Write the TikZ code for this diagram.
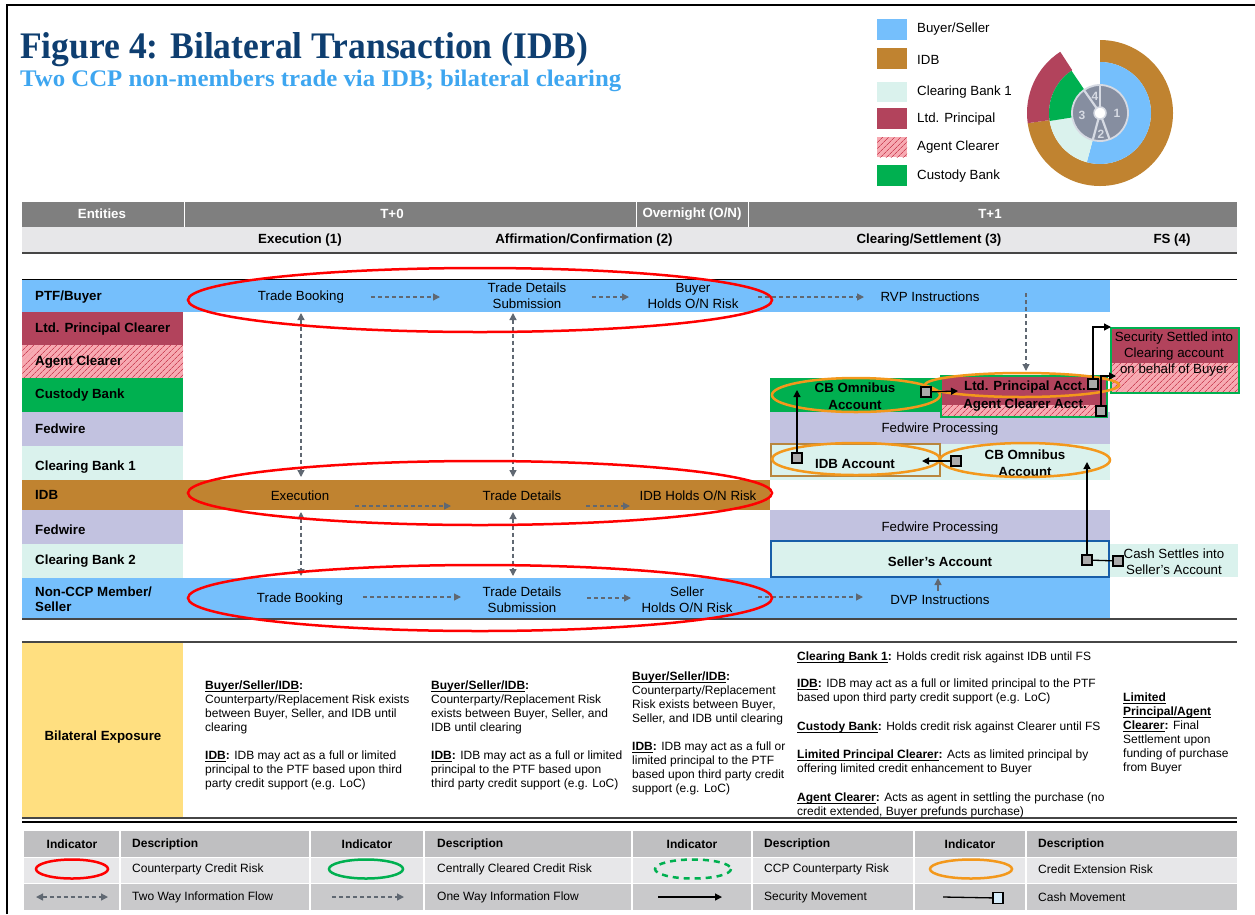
\documentclass[tikz,border=0pt]{standalone}
\usepackage{fontspec}
\setmainfont{Liberation Sans}
\newfontfamily\titlefont{Liberation Serif}
\usepackage{graphicx}
\usetikzlibrary{arrows.meta,patterns.meta}

\definecolor{buyblue}{RGB}{117,191,252}
\definecolor{rasp}{RGB}{178,67,92}
\definecolor{hatchpink}{RGB}{247,170,178}
\definecolor{hatchred}{RGB}{205,70,90}
\definecolor{cgreen}{RGB}{0,176,80}
\definecolor{lav}{RGB}{194,194,224}
\definecolor{mint}{RGB}{218,242,237}
\definecolor{idbbrown}{RGB}{192,131,48}
\definecolor{hdrdark}{RGB}{127,127,127}
\definecolor{hdrlight}{RGB}{231,231,233}
\definecolor{corange}{RGB}{243,152,28}
\definecolor{cred}{RGB}{255,0,0}
\definecolor{yel}{RGB}{255,223,128}
\definecolor{titleblue}{RGB}{14,62,112}
\definecolor{subblue}{RGB}{62,166,240}
\definecolor{flowgray}{RGB}{96,104,114}
\definecolor{sqgray}{RGB}{170,170,170}
\definecolor{sqblue}{RGB}{214,236,250}
\definecolor{sellerblue}{RGB}{24,94,168}
\definecolor{acctbrown}{RGB}{184,134,62}
\definecolor{discgray}{RGB}{134,142,160}
\definecolor{discline}{RGB}{214,218,227}
\definecolor{tabhead}{RGB}{191,191,193}
\definecolor{tabrow}{RGB}{231,231,233}
\definecolor{tabrow3}{RGB}{201,201,203}
\definecolor{linegray}{RGB}{70,70,70}

\newsavebox\myulbox
\newcommand\ulx[1]{\sbox\myulbox{#1}\rlap{\rule[-1.6pt]{\wd\myulbox}{0.8pt}}\usebox\myulbox}

\tikzset{
  lbl/.style={font=\fontsize{13.3}{15.5}\selectfont\bfseries, anchor=west, inner sep=0, align=left},
  txt/.style={font=\fontsize{13.3}{16}\selectfont, align=center, inner sep=0},
  btxt/.style={font=\fontsize{13.3}{17}\selectfont\bfseries, align=center, inner sep=0},
  hdrw/.style={font=\fontsize{13.3}{15}\selectfont\bfseries, text=white, inner sep=0},
  hdrb/.style={font=\fontsize{13.3}{15}\selectfont\bfseries, inner sep=0},
  lg/.style={font=\fontsize{13.3}{15}\selectfont, anchor=west, inner sep=0},
  small/.style={font=\fontsize{12}{14}\selectfont, align=left, anchor=north west, inner sep=0},
  tabt/.style={font=\fontsize{12}{14}\selectfont, anchor=west, inner sep=0},
  tabh/.style={font=\fontsize{12}{14}\selectfont\bfseries, inner sep=0},
  dflow/.style={draw=flowgray, line width=1.3pt, dash pattern=on 4pt off 3pt, -{Triangle[length=7pt,width=7pt]}},
  dflowtwo/.style={draw=flowgray, line width=1.3pt, dash pattern=on 4pt off 3pt, {Triangle[length=7pt,width=7pt]}-{Triangle[length=7pt,width=7pt]}},
  sec/.style={draw=black, line width=1.3pt, -{Triangle[length=7pt,width=7pt]}},
  csq/.style={draw=black, fill=sqgray, line width=1.2pt, minimum size=10pt, inner sep=0},
  hatch/.style={fill=hatchpink, postaction={pattern={Lines[angle=45,distance=4pt,line width=0.8pt]}, pattern color=hatchred}},
  redring/.style={draw=cred, line width=2.5pt},
  orring/.style={draw=corange, line width=2.5pt},
}

\begin{document}
\begin{tikzpicture}[x=1pt,y=-1pt]
\useasboundingbox (0,0) rectangle (1255,914);
\fill[white] (0,0) rectangle (1255,914);
\draw[line width=2.2pt] (7,914) -- (7,5) -- (1255,5);

% ---------- title ----------
\node[anchor=base west, inner sep=0, text=titleblue] (title) at (20,58)
  {\resizebox{568pt}{26pt}{\titlefont\bfseries Figure 4: Bilateral Transaction (IDB)}};
\node[anchor=base west, inner sep=0, text=subblue] (subtitle) at (20,86)
  {\resizebox{601pt}{16.5pt}{\titlefont\bfseries Two CCP non-members trade via IDB; bilateral clearing}};

% ---------- top-right legend ----------
\fill[buyblue] (877,19) rectangle (907,40);
\node[lg] (lgbs) at (917,29) {Buyer/Seller};
\fill[idbbrown] (877,48) rectangle (907,69);
\node[lg] (lgidb) at (917,60) {IDB};
\fill[mint] (877,82) rectangle (907,102);
\node[lg] (lgcb) at (917,92) {Clearing Bank 1};
\fill[rasp] (877,108) rectangle (907,129);
\node[lg] (lglp) at (917,119) {Ltd. Principal};
\path[hatch] (877,137) rectangle (907,157);
\node[lg] (lgac) at (917,147) {Agent Clearer};
\fill[cgreen] (877,165) rectangle (907,186);
\node[lg] (lgcu) at (917,176) {Custody Bank};

% ---------- donut ----------
\begin{scope}[shift={(1100,113)}, yscale=-1]
  \fill[idbbrown] (90:73) arc[start angle=90,end angle=-172,radius=73] -- (-172:51) arc[start angle=-172,end angle=90,radius=51] -- cycle;
  \fill[rasp] (123:73) arc[start angle=123,end angle=188,radius=73] -- (188:51) arc[start angle=188,end angle=123,radius=51] -- cycle;
  \fill[buyblue] (90:51) arc[start angle=90,end angle=-105,radius=51] -- (-105:28) arc[start angle=-105,end angle=90,radius=28] -- cycle;
  \fill[mint] (-105:51) arc[start angle=-105,end angle=-171,radius=51] -- (-171:28) arc[start angle=-171,end angle=-105,radius=28] -- cycle;
  \fill[cgreen] (189:51) arc[start angle=189,end angle=124,radius=51] -- (124:28) arc[start angle=124,end angle=189,radius=28] -- cycle;
  \fill[discgray] (0,0) circle[radius=28];
  \draw[discline, line width=1.8pt] (0,0) circle[radius=28];
  \draw[discline, line width=2.2pt] (90:6) -- (90:28);
  \draw[discline, line width=2.2pt] (125:6) -- (125:28);
  \draw[discline, line width=2.2pt] (-105:6) -- (-105:28);
  \draw[discline, line width=2.2pt] (-70:6) -- (-70:28);
  \fill[white] (0,0) circle[radius=6];
  \draw[discline, line width=1.5pt] (0,0) circle[radius=6];
  \node[font=\fontsize{12}{12}\selectfont\bfseries, text=discline, inner sep=0] (n1) at (17,0) {1};
  \node[font=\fontsize{12}{12}\selectfont\bfseries, text=discline, inner sep=0] (n2) at (1,-21) {2};
  \node[font=\fontsize{12}{12}\selectfont\bfseries, text=discline, inner sep=0] (n3) at (-18,-2) {3};
  \node[font=\fontsize{12}{12}\selectfont\bfseries, text=discline, inner sep=0] (n4) at (-5,17) {4};
\end{scope}

% ---------- header ----------
\fill[hdrdark] (22,202) rectangle (1237,227);
\fill[hdrlight] (22,227) rectangle (1237,252);
\draw[linegray, line width=1.6pt] (22,253) -- (1237,253);
\draw[white, line width=1pt] (184,202) -- (184,227);
\draw[white, line width=1pt] (636,202) -- (636,227);
\draw[white, line width=1pt] (748,202) -- (748,227);
\node[hdrw] (hent) at (102,214) {Entities};
\node[hdrw] (ht0) at (392,214) {T+0};
\node[hdrw] (hon) at (692,214) {Overnight (O/N)};
\node[hdrw] (ht1) at (990,214) {T+1};
\node[hdrb] (hexe) at (300,240) {Execution (1)};
\node[hdrb] (haff) at (584,240) {Affirmation/Confirmation (2)};
\node[hdrb] (hcs) at (929,240) {Clearing/Settlement (3)};
\node[hdrb] (hfs) at (1172,240) {FS (4)};

% ---------- rows ----------
\fill[buyblue] (22,279) rectangle (1110,312);
\fill[rasp] (22,312) rectangle (183,345);
\path[hatch] (22,345) rectangle (183,378);
\fill[cgreen] (22,378) rectangle (183,412);
\fill[lav] (22,412) rectangle (183,446);
\fill[mint] (22,446) rectangle (183,480);
\fill[idbbrown] (22,480) rectangle (770,510);
\fill[lav] (22,510) rectangle (183,544);
\fill[mint] (22,544) rectangle (183,578);
\fill[buyblue] (22,578) rectangle (1110,619);
\draw[black, line width=1pt] (22,279) -- (1237,279);
\draw[linegray, line width=1.3pt] (22,619) -- (1237,619);

\node[lbl] (rptf) at (35,297) {PTF/Buyer};
\node[lbl] (rlpc) at (35,329) {Ltd. Principal Clearer};
\node[lbl] (rac) at (35,362) {Agent Clearer};
\node[lbl] (rcust) at (35,395) {Custody Bank};
\node[lbl] (rfw1) at (35,429) {Fedwire};
\node[lbl] (rcb1) at (35,467) {Clearing Bank 1};
\node[lbl] (ridb) at (35,495) {IDB};
\node[lbl] (rfw2) at (35,530) {Fedwire};
\node[lbl] (rcb2) at (35,561) {Clearing Bank 2};
\node[lbl] (rsel) at (35,599) {Non-CCP Member/\\Seller};

% ---------- T+1 area ----------
\fill[lav] (770,412) rectangle (1110,444);
\fill[mint] (770,444) rectangle (1110,480);
\fill[cgreen] (770,378) rectangle (940,412);
\fill[rasp] (941,376) rectangle (1107,405);
\path[hatch] (941,405) rectangle (1107,417);
\draw[cgreen, line width=2pt] (941,376) rectangle (1107,417);
\draw[acctbrown, line width=2pt, fill=mint] (771,444) rectangle (940,476);

\fill[rasp] (1111,328) rectangle (1239,363);
\path[hatch] (1111,363) rectangle (1239,393);
\draw[cgreen, line width=2pt] (1111,328) rectangle (1239,393);

\fill[lav] (770,510) rectangle (1110,541);
\draw[sellerblue, line width=2pt, fill=mint] (771,541) rectangle (1109,577);
\fill[mint] (1110,544) rectangle (1238,577);

\node[btxt] (cbo1) at (855,396) {CB Omnibus\\Account};
\node[btxt] (lpa) at (1025,387) {Ltd. Principal Acct.};
\node[btxt] (aca) at (1025,405) {Agent Clearer Acct.};
\node[txt] (fwp1) at (940,429) {Fedwire Processing};
\node[btxt] (idba) at (855,464) {IDB Account};
\node[btxt] (cbo2) at (1025,463) {CB Omnibus\\Account};
\node[txt] (fwp2) at (940,528) {Fedwire Processing};
\node[btxt] (sacc) at (940,562) {Seller’s Account};
\node[txt] (cash) at (1174,562) {Cash Settles into\\Seller’s Account};
\node[txt] (ssb) at (1174,354) {Security Settled into\\Clearing account\\on behalf of Buyer};

% orange ellipses
\draw[orring] (856,395) ellipse [x radius=84, y radius=17];
\draw[orring] (1022,385) ellipse [x radius=97, y radius=12];
\draw[orring] (856,459) ellipse [x radius=84, y radius=16];
\draw[orring] (1025,460) ellipse [x radius=85, y radius=17];

% squares and movements
\node[csq] (s1) at (926,392) {};
\node[csq] (s2) at (1093,384) {};
\node[csq] (s3) at (1101,411) {};
\node[csq] (s4) at (797,458) {};
\node[csq] (s5) at (956,461) {};
\node[csq] (s6) at (1087,560) {};
\node[csq] (s7) at (1118,561) {};
\coordinate (t1) at (958,391);
\coordinate (t2) at (797,390);
\coordinate (t3) at (922,461);
\coordinate (t4) at (1087,462);
\coordinate (t5) at (1111,327);
\coordinate (t6) at (1116,376);
\draw[sec] (s1) -- (t1);
\draw[sec] (s4) -- (t2);
\draw[sec] (s5) -- (t3);
\draw[sec] (s6) -- (t4);
\draw[sec] (s2.north) |- (t5);
\draw[sec] (s3.north) |- (t6);
\draw[black, line width=1.3pt] (s6) -- (s7);

% ---------- flow texts ----------
\node[txt] (tb1) at (301,297) {Trade Booking};
\node[txt] (td1) at (527,296) {Trade Details\\Submission};
\node[txt] (bh) at (693,296) {Buyer\\Holds O/N Risk};
\node[txt] (rvp) at (930,297) {RVP Instructions};
\node[txt] (exe) at (300,496) {Execution};
\node[txt] (td2) at (522,496) {Trade Details};
\node[txt] (ih) at (698,496) {IDB Holds O/N Risk};
\node[txt] (tb3) at (300,599) {Trade Booking};
\node[txt] (td3) at (522,600) {Trade Details\\Submission};
\node[txt] (sh) at (687,600) {Seller\\Holds O/N Risk};
\node[txt] (dvp) at (940,600) {DVP Instructions};

% dashed flows
\coordinate (f1a) at (371,297); \coordinate (f1b) at (440,297);
\coordinate (f2a) at (592,297); \coordinate (f2b) at (629,297);
\coordinate (f3a) at (758,297); \coordinate (f3b) at (864,297);
\coordinate (f4a) at (355,506); \coordinate (f4b) at (451,506);
\coordinate (f5a) at (586,506); \coordinate (f5b) at (630,506);
\coordinate (f6a) at (363,597); \coordinate (f6b) at (461,597);
\coordinate (f7a) at (587,598); \coordinate (f7b) at (631,598);
\coordinate (f8a) at (758,597); \coordinate (f8b) at (863,597);
\coordinate (f9a) at (1026,293); \coordinate (f9b) at (1026,371);
\draw[dflow] (f1a) -- (f1b);
\draw[dflow] (f2a) -- (f2b);
\draw[dflow] (f3a) -- (f3b);
\draw[dflow] (f4a) -- (f4b);
\draw[dflow] (f5a) -- (f5b);
\draw[dflow] (f6a) -- (f6b);
\draw[dflow] (f7a) -- (f7b);
\draw[dflow] (f8a) -- (f8b);
\draw[dflow] (f9a) -- (f9b);
\coordinate (v1a) at (301,313); \coordinate (v1b) at (301,477);
\coordinate (v2a) at (513,313); \coordinate (v2b) at (513,477);
\coordinate (v3a) at (301,512); \coordinate (v3b) at (301,576);
\coordinate (v4a) at (513,512); \coordinate (v4b) at (513,576);
\draw[dflowtwo] (v1a) -- (v1b);
\draw[dflowtwo] (v2a) -- (v2b);
\draw[dflowtwo] (v3a) -- (v3b);
\draw[dflowtwo] (v4a) -- (v4b);
\coordinate (g1) at (938,591);
\coordinate (g2) at (938,578);
\draw[draw=flowgray, line width=1.5pt, -{Triangle[length=7pt,width=7pt]}] (g1) -- (g2);

% red ellipses
\draw[redring] (480,300) ellipse [x radius=292, y radius=32];
\draw[redring] (480,493) ellipse [x radius=292, y radius=32];
\draw[redring] (480,598) ellipse [x radius=292, y radius=33];

% ---------- bilateral exposure ----------
\fill[yel] (22,642) rectangle (183,818);
\draw[linegray, line width=2pt] (22,642) -- (1237,642);
\draw[linegray, line width=1.2pt] (22,818) -- (1237,818);
\node[hdrb] (bexp) at (103,737) {Bilateral Exposure};

\node[small] (c1) at (205,681) {\textbf{\ulx{Buyer/Seller/IDB}:}\\Counterparty/Replacement Risk exists\\between Buyer, Seller, and IDB until\\clearing\\[14pt]\textbf{\ulx{IDB}:} IDB may act as a full or limited\\principal to the PTF based upon third\\party credit support (e.g. LoC)};
\node[small] (c2) at (431,681) {\textbf{\ulx{Buyer/Seller/IDB}:}\\Counterparty/Replacement Risk\\exists between Buyer, Seller, and\\IDB until clearing\\[14pt]\textbf{\ulx{IDB}:} IDB may act as a full or limited\\principal to the PTF based upon\\third party credit support (e.g. LoC)};
\node[small] (c3) at (632,672) {\textbf{\ulx{Buyer/Seller/IDB}:}\\Counterparty/Replacement\\Risk exists between Buyer,\\Seller, and IDB until clearing\\[14pt]\textbf{\ulx{IDB}:} IDB may act as a full or\\limited principal to the PTF\\based upon third party credit\\support (e.g. LoC)};
\node[small] (c4a) at (797,652) {\textbf{\ulx{Clearing Bank 1}:} Holds credit risk against IDB until FS};
\node[small] (c4b) at (797,679) {\textbf{\ulx{IDB}:} IDB may act as a full or limited principal to the PTF\\based upon third party credit support (e.g. LoC)};
\node[small] (c4c) at (797,722) {\textbf{\ulx{Custody Bank}:} Holds credit risk against Clearer until FS};
\node[small] (c4d) at (797,750) {\textbf{\ulx{Limited Principal Clearer}:} Acts as limited principal by\\offering limited credit enhancement to Buyer};
\node[small] (c4e) at (797,793) {\textbf{\ulx{Agent Clearer}:} Acts as agent in settling the purchase (no\\credit extended, Buyer prefunds purchase)};
\node[small] (c5) at (1123,693) {\textbf{\ulx{Limited}}\\\textbf{\ulx{Principal/Agent}}\\\textbf{\ulx{Clearer}:} Final\\Settlement upon\\funding of purchase\\from Buyer};

% ---------- indicator table ----------
\draw[black, line width=2pt] (22,822) -- (1237,822);
\fill[tabhead] (24,831) rectangle (1237,857);
\fill[tabrow] (24,857) rectangle (1237,883);
\fill[tabrow3] (24,883) rectangle (1237,910);
\foreach \xx in {120,310,424,632,752,914,1026} {\draw[white, line width=1.5pt] (\xx,831) -- (\xx,910);}
\draw[white, line width=1pt] (24,857) -- (1237,857);
\draw[white, line width=1pt] (24,883) -- (1237,883);
\node[tabh] (ih1) at (72,844) {Indicator};
\node[tabh] (ih2) at (367,844) {Indicator};
\node[tabh] (ih3) at (692,844) {Indicator};
\node[tabh] (ih4) at (970,844) {Indicator};
\node[tabh, anchor=west] (dh1) at (132,844) {Description};
\node[tabh, anchor=west] (dh2) at (437,844) {Description};
\node[tabh, anchor=west] (dh3) at (764,844) {Description};
\node[tabh, anchor=west] (dh4) at (1038,844) {Description};

\draw[redring] (72,869) ellipse [x radius=36, y radius=9.5];
\draw[draw=cgreen, line width=2.5pt] (366,869) ellipse [x radius=37, y radius=9.5];
\draw[draw=cgreen, line width=2.5pt, dash pattern=on 6pt off 5pt] (693,869) ellipse [x radius=38, y radius=9.5];
\draw[orring] (971,869) ellipse [x radius=41, y radius=9.5];
\node[tabt] (l1) at (132,869) {Counterparty Credit Risk};
\node[tabt] (l2) at (437,869) {Centrally Cleared Credit Risk};
\node[tabt] (l3) at (764,869) {CCP Counterparty Risk};
\node[tabt] (l4) at (1038,869) {Credit Extension Risk};

\coordinate (k1a) at (36,897); \coordinate (k1b) at (108,897);
\coordinate (k2a) at (332,897); \coordinate (k2b) at (404,897);
\coordinate (k3a) at (658,897); \coordinate (k3b) at (722,897);
\coordinate (k4a) at (943,897);
\draw[dflowtwo] (k1a) -- (k1b);
\draw[dflow] (k2a) -- (k2b);
\draw[sec] (k3a) -- (k3b);
\node[draw=black, fill=sqblue, line width=1.2pt, minimum width=10pt, minimum height=11pt, inner sep=0] (k4s) at (998,898) {};
\draw[black, line width=1.3pt] (k4a) -- (k4s);
\node[tabt] (l5) at (132,897) {Two Way Information Flow};
\node[tabt] (l6) at (437,897) {One Way Information Flow};
\node[tabt] (l7) at (764,897) {Security Movement};
\node[tabt] (l8) at (1038,897) {Cash Movement};
\end{tikzpicture}
\end{document}
